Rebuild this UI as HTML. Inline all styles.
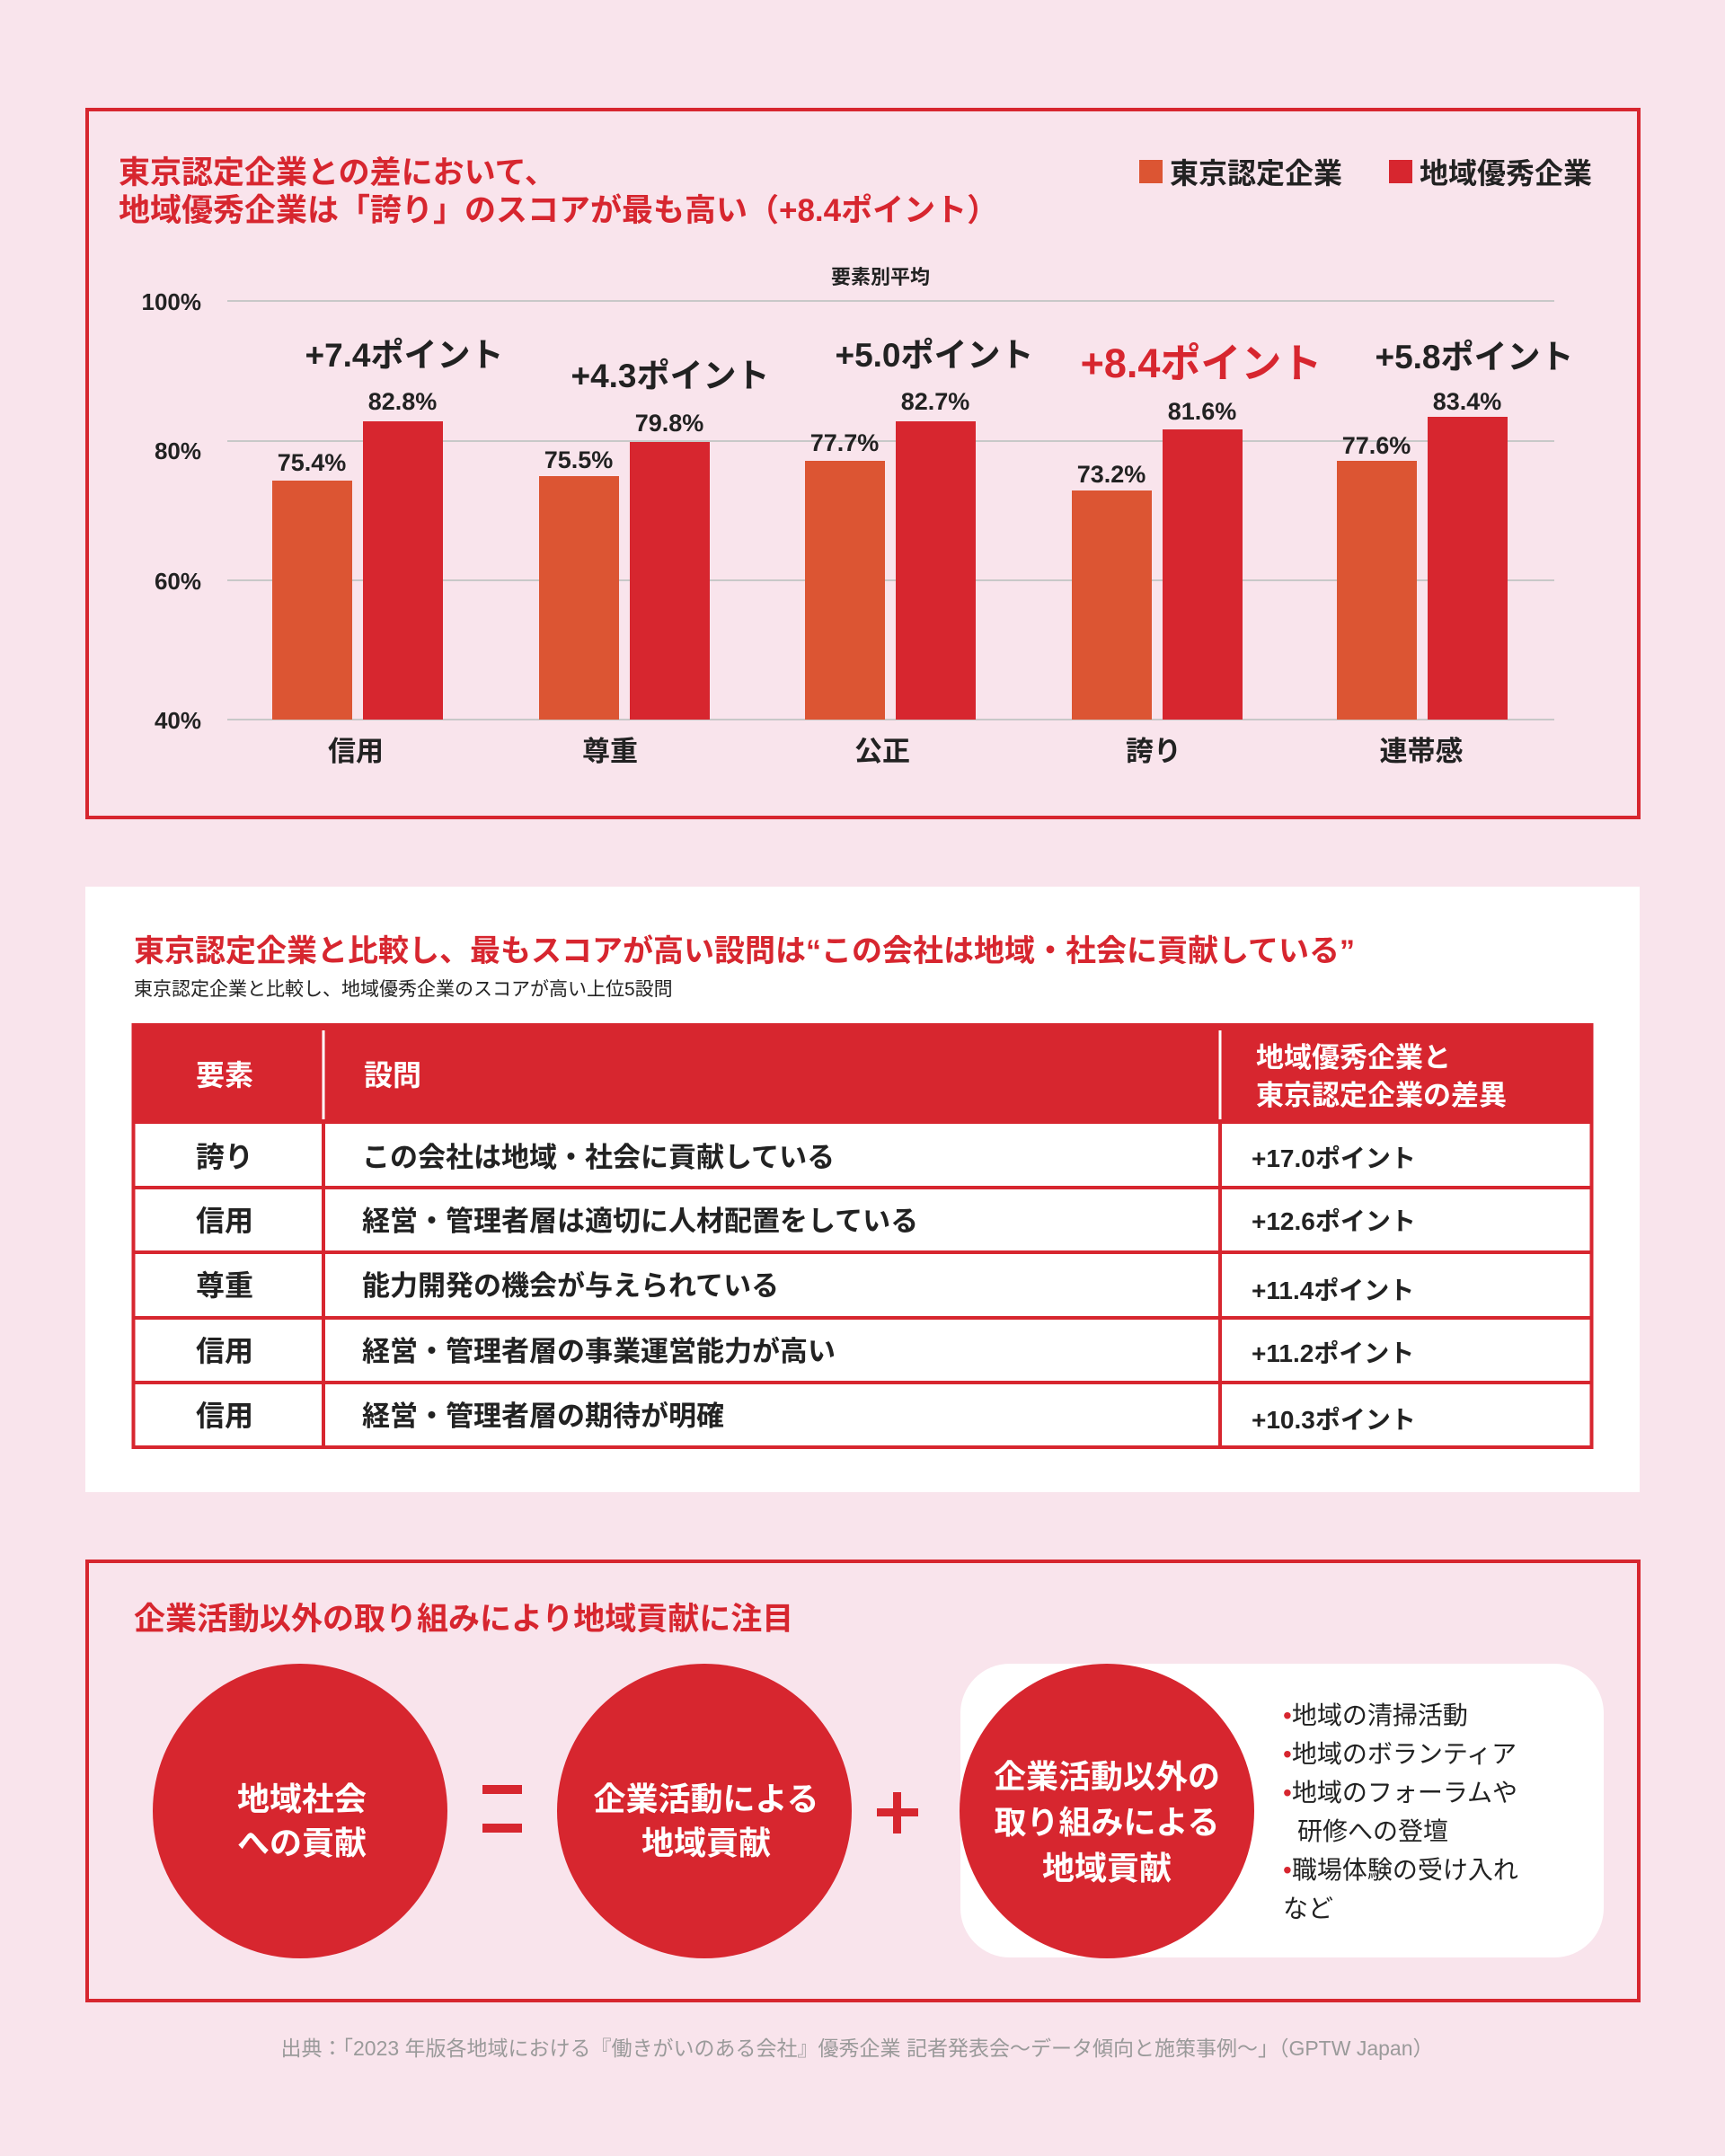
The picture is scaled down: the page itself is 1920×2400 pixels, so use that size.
<!DOCTYPE html>
<html><head><meta charset="utf-8"><style>
html,body{margin:0;padding:0;background:#f9e4ec;}
svg{display:block;}
text{font-family:"Liberation Sans","Noto Sans CJK JP",sans-serif;font-weight:bold;}
text.n,.n text{font-weight:normal;}
</style></head><body>
<svg width="1920" height="2400" viewBox="0 0 1920 2400" xmlns="http://www.w3.org/2000/svg">
<rect width="1920" height="2400" fill="#f9e4ec"/>
<!-- Section 1 -->
<rect x="97" y="122" width="1727" height="788" fill="none" stroke="#d7262f" stroke-width="4"/>
<text x="132" y="204" font-size="35" fill="#d7262f">東京認定企業との差において、</text>
<text x="132" y="246" font-size="35" fill="#d7262f">地域優秀企業は「誇り」のスコアが最も高い（+8.4ポイント）</text>
<rect x="1268" y="178" width="26" height="26" fill="#dc5533"/>
<text x="1302" y="204" font-size="32" fill="#222">東京認定企業</text>
<rect x="1546" y="178" width="26" height="26" fill="#d7262f"/>
<text x="1580" y="204" font-size="32" fill="#222">地域優秀企業</text>
<text x="980" y="316" font-size="22" fill="#222" text-anchor="middle">要素別平均</text>
<g stroke="#c8c8c8" stroke-width="2">
<line x1="253" y1="335" x2="1730" y2="335"/><line x1="253" y1="491" x2="1730" y2="491"/>
<line x1="253" y1="646" x2="1730" y2="646"/><line x1="253" y1="801" x2="1730" y2="801"/>
</g>
<g font-size="26" fill="#222" text-anchor="end">
<text x="224" y="345">100%</text><text x="224" y="511">80%</text><text x="224" y="656">60%</text><text x="224" y="811">40%</text>
</g>
<g fill="#dc5533">
<rect x="303" y="535" width="89" height="266"/><rect x="600" y="530" width="89" height="271"/>
<rect x="896" y="513" width="89" height="288"/><rect x="1193" y="546" width="89" height="255"/>
<rect x="1488" y="513" width="89" height="288"/>
</g>
<g fill="#d7262f">
<rect x="404" y="469" width="89" height="332"/><rect x="701" y="492" width="89" height="309"/>
<rect x="997" y="469" width="89" height="332"/><rect x="1294" y="478" width="89" height="323"/>
<rect x="1589" y="464" width="89" height="337"/>
</g>
<g font-size="27" fill="#222" text-anchor="middle">
<text x="347" y="524">75.4%</text><text x="448" y="456">82.8%</text>
<text x="644" y="521">75.5%</text><text x="745" y="480">79.8%</text>
<text x="940" y="502">77.7%</text><text x="1041" y="456">82.7%</text>
<text x="1237" y="537">73.2%</text><text x="1338" y="467">81.6%</text>
<text x="1532" y="505">77.6%</text><text x="1633" y="456">83.4%</text>
</g>
<g font-size="37" fill="#222" text-anchor="middle">
<text x="450" y="408">+7.4ポイント</text><text x="746" y="431">+4.3ポイント</text>
<text x="1040" y="408">+5.0ポイント</text><text x="1641" y="410">+5.8ポイント</text>
</g>
<text x="1337" y="420" font-size="45" fill="#d7262f" text-anchor="middle">+8.4ポイント</text>
<g font-size="31" fill="#222" text-anchor="middle">
<text x="396" y="847">信用</text><text x="679" y="847">尊重</text><text x="982" y="847">公正</text>
<text x="1284" y="847">誇り</text><text x="1582" y="847">連帯感</text>
</g>
<!-- Section 2 -->
<rect x="95" y="987" width="1730" height="674" fill="#fff"/>
<text x="149" y="1070" font-size="34" fill="#d7262f">東京認定企業と比較し、最もスコアが高い設問は“この会社は地域・社会に貢献している”</text>
<text class="n" x="149" y="1108" font-size="21" fill="#222">東京認定企業と比較し、地域優秀企業のスコアが高い上位5設問</text>
<rect x="147" y="1141" width="1626" height="110" fill="#d7262f"/>
<rect x="148.5" y="1141" width="1623" height="470" fill="none" stroke="#d7262f" stroke-width="4"/>
<g stroke="#fff" stroke-width="3"><line x1="360" y1="1147" x2="360" y2="1246"/><line x1="1358" y1="1147" x2="1358" y2="1246"/></g>
<g stroke="#d7262f" stroke-width="4">
<line x1="360" y1="1251" x2="360" y2="1611"/><line x1="1358" y1="1251" x2="1358" y2="1611"/>
<line x1="147" y1="1322" x2="1773" y2="1322"/><line x1="147" y1="1394" x2="1773" y2="1394"/>
<line x1="147" y1="1467" x2="1773" y2="1467"/><line x1="147" y1="1539" x2="1773" y2="1539"/>
</g>
<g font-size="32" fill="#fff">
<text x="250" y="1208" text-anchor="middle">要素</text><text x="405" y="1208">設問</text>
<text x="1398" y="1188" font-size="31">地域優秀企業と</text><text x="1398" y="1230" font-size="31">東京認定企業の差異</text>
</g>
<g font-size="32" fill="#222" text-anchor="middle">
<text x="250" y="1299">誇り</text><text x="250" y="1370">信用</text><text x="250" y="1442">尊重</text>
<text x="250" y="1515">信用</text><text x="250" y="1587">信用</text>
</g>
<g font-size="31" fill="#222">
<text x="403" y="1299">この会社は地域・社会に貢献している</text>
<text x="403" y="1370">経営・管理者層は適切に人材配置をしている</text>
<text x="403" y="1442">能力開発の機会が与えられている</text>
<text x="403" y="1515">経営・管理者層の事業運営能力が高い</text>
<text x="403" y="1587">経営・管理者層の期待が明確</text>
</g>
<g font-size="28" fill="#222">
<text x="1393" y="1299">+17.0ポイント</text><text x="1393" y="1369">+12.6ポイント</text>
<text x="1393" y="1446">+11.4ポイント</text><text x="1393" y="1516">+11.2ポイント</text>
<text x="1393" y="1590">+10.3ポイント</text>
</g>
<!-- Section 3 -->
<rect x="97" y="1738" width="1727" height="489" fill="none" stroke="#d7262f" stroke-width="4"/>
<text x="149" y="1814" font-size="35" fill="#d7262f">企業活動以外の取り組みにより地域貢献に注目</text>
<rect x="1069" y="1852" width="716" height="327" rx="55" fill="#fff"/>
<g fill="#d7262f">
<circle cx="334" cy="2016" r="164"/><circle cx="784" cy="2016" r="164"/><circle cx="1232" cy="2016" r="164"/>
<rect x="537" y="1987" width="44" height="10"/><rect x="537" y="2030" width="44" height="10"/>
<rect x="976" y="2013" width="46" height="9"/><rect x="994" y="1995" width="9" height="46"/>
</g>
<g font-size="36" fill="#fff" text-anchor="middle">
<text x="336" y="2015">地域社会</text><text x="336" y="2064">への貢献</text>
<text x="786" y="2015">企業活動による</text><text x="786" y="2064">地域貢献</text>
<text x="1232" y="1990">企業活動以外の</text><text x="1232" y="2041">取り組みによる</text><text x="1232" y="2092">地域貢献</text>
</g>
<g class="n" font-size="28" fill="#222">
<text x="1428" y="1919"><tspan fill="#d7262f">•</tspan>地域の清掃活動</text>
<text x="1428" y="1962"><tspan fill="#d7262f">•</tspan>地域のボランティア</text>
<text x="1428" y="2005"><tspan fill="#d7262f">•</tspan>地域のフォーラムや</text>
<text x="1444" y="2048">研修への登壇</text>
<text x="1428" y="2091"><tspan fill="#d7262f">•</tspan>職場体験の受け入れ</text>
<text x="1428" y="2134">など</text>
</g>
<text class="n" x="954" y="2288" font-size="23" fill="#9a9a9a" text-anchor="middle">出典：「2023 年版各地域における『働きがいのある会社』優秀企業 記者発表会〜データ傾向と施策事例〜」（GPTW Japan）</text>
</svg>
</body></html>
